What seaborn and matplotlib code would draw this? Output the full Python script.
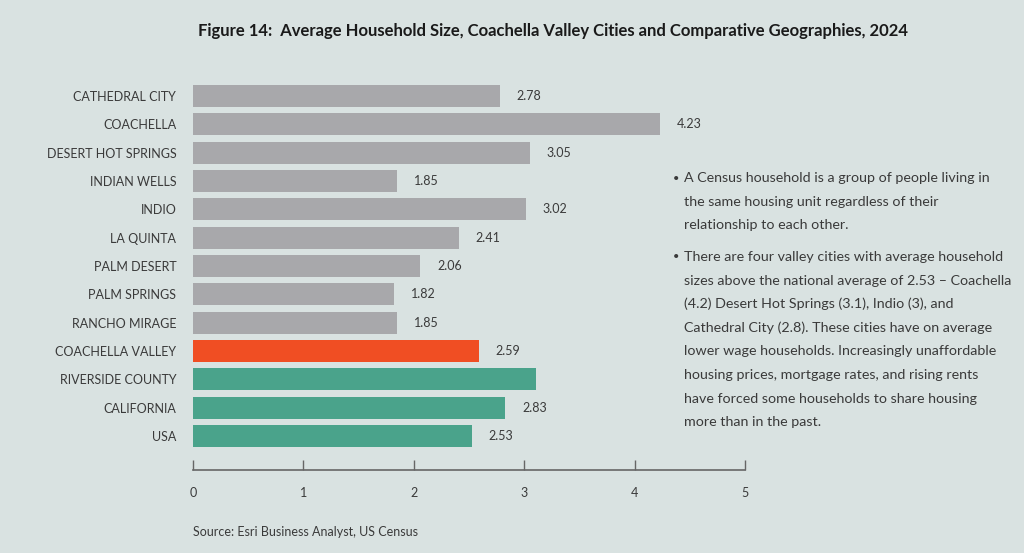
import matplotlib
matplotlib.use("Agg")
import matplotlib.pyplot as plt
import seaborn as sns
import pandas as pd

# data
places = ["CATHEDRAL CITY", "COACHELLA", "DESERT HOT SPRINGS", "INDIAN WELLS", "INDIO",
          "LA QUINTA", "PALM DESERT", "PALM SPRINGS", "RANCHO MIRAGE",
          "COACHELLA VALLEY", "RIVERSIDE COUNTY", "CALIFORNIA", "USA"]
household_size = [2.78, 4.23, 3.05, 1.85, 3.02, 2.41, 2.06, 1.82, 1.85, 2.59, 3.11, 2.83, 2.53]
group = ["city"] * 9 + ["valley"] + ["compare"] * 3
xticks = [0, 1, 2, 3, 4, 5]

bullet1 = ["A Census household is a group of people living in",
           "the same housing unit regardless of their",
           "relationship to each other."]
bullet2 = ["There are four valley cities with average household",
           "sizes above the national average of 2.53 \u2013 Coachella",
           "(4.2) Desert Hot Springs (3.1), Indio (3), and",
           "Cathedral City (2.8). These cities have on average",
           "lower wage households. Increasingly unaffordable",
           "housing prices, mortgage rates, and rising rents",
           "have forced some households to share housing",
           "more than in the past."]

bg = "#d9e2e1"
colors = {"city": "#a8a8ab", "valley": "#f04e23", "compare": "#4aa38b"}

sns.set_style("white")
plt.rcParams["font.family"] = ["Lato", "DejaVu Sans"]

df = pd.DataFrame({"place": places, "size": household_size, "group": group})

fig = plt.figure(figsize=(10.24, 5.53), dpi=100, facecolor=bg)
ax = fig.add_axes([0.1885, 0.150, 0.539, 0.702])
ax.set_facecolor(bg)

sns.barplot(data=df, x="size", y="place", hue="group", palette=colors,
            dodge=False, width=0.78, legend=False, ax=ax, saturation=1,
            edgecolor="none", linewidth=0)

for i, v in enumerate(household_size):
    # the reference shows no label for Riverside County
    if places[i] == "RIVERSIDE COUNTY":
        continue
    ax.text(v + 0.15, i, f"{v:.2f}", va="center", ha="left", fontsize=9, color="#3a3a3a")

ax.set_xlim(0, 5)
ax.set_ylim(13.2, -0.5)
ax.set_xticks(xticks)
ax.set_xticklabels([str(t) for t in xticks])
ax.set_xlabel("")
ax.set_ylabel("")
for s in ["top", "right", "left"]:
    ax.spines[s].set_visible(False)
ax.spines["bottom"].set_color("#666666")
ax.spines["bottom"].set_linewidth(1.2)
ax.tick_params(axis="x", direction="in", length=7, width=1, color="#666666",
               labelsize=9, labelcolor="#3a3a3a", pad=12, bottom=True)
ax.tick_params(axis="y", length=0, labelsize=9, labelcolor="#3a3a3a", pad=12)

fig.text(0.54, 0.944, "Figure 14:  Average Household Size, Coachella Valley Cities and Comparative Geographies, 2024",
         ha="center", va="center", fontsize=12, fontweight="bold", color="#1a1a1a")

# side notes, one line at a time so the spacing matches
step = 23.6
for first, lines in [(178, bullet1), (257, bullet2)]:
    fig.text(0.657, 1 - first / 553, "\u2022", ha="left", va="center", fontsize=8, color="#3a3a3a")
    for k, line in enumerate(lines):
        fig.text(0.668, 1 - (first + k * step) / 553, line, ha="left", va="center",
                 fontsize=10.3, color="#3a3a3a")

fig.text(193 / 1024, 1 - 532 / 553, "Source: Esri Business Analyst, US Census",
         ha="left", va="center", fontsize=9, color="#3a3a3a")

fig.savefig("out.png", dpi=100, facecolor=bg)
